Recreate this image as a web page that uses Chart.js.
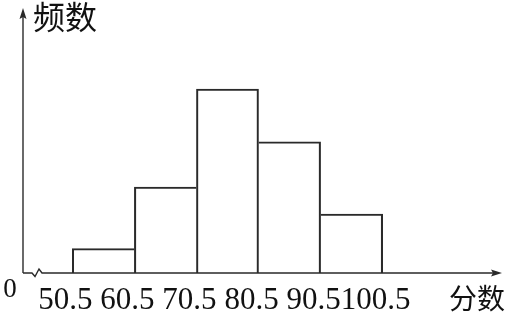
<!DOCTYPE html>
<html>
<head>
<meta charset="utf-8">
<script src="https://cdn.jsdelivr.net/npm/chart.js@4.4.1/dist/chart.umd.min.js"></script>
<style>
html,body{margin:0;padding:0;background:#fff;}
#wrap{width:510px;height:314px;position:relative;}
</style>
</head>
<body>
<div id="wrap"><canvas id="c" width="510" height="314"></canvas></div>
<script>
// Data
const binEdges = [50.5, 60.5, 70.5, 80.5, 90.5, 100.5];
const tickLabels = ['50.5', '60.5', '70.5', '80.5', '90.5', '100.5'];
const frequencies = [2, 7, 15, 10.7, 4.8];
const yAxisTitle = '频数';
const xAxisTitle = '分数';
const originLabel = '0';

const points = frequencies.map((v, i) => ({ x: (binEdges[i] + binEdges[i + 1]) / 2, y: v }));
const lineColor = '#2a2a2a';
const bw = 1.4;

const axesPlugin = {
  id: 'axesPlugin',
  afterDatasetsDraw(chart) {
    const ctx = chart.ctx;
    const xs = chart.scales.x, ys = chart.scales.y;
    const area = chart.chartArea;
    const x0 = area.left, y0 = ys.getPixelForValue(0);
    ctx.save();
    ctx.strokeStyle = lineColor;
    ctx.fillStyle = lineColor;
    ctx.lineWidth = 1.4;
    // y axis
    ctx.beginPath();
    ctx.moveTo(x0, y0);
    ctx.lineTo(x0, area.top + 4);
    ctx.stroke();
    ctx.beginPath();
    ctx.moveTo(x0, area.top);
    ctx.lineTo(x0 - 3.5, area.top + 11);
    ctx.lineTo(x0, area.top + 9);
    ctx.lineTo(x0 + 3.5, area.top + 11);
    ctx.closePath();
    ctx.fill();
    // x axis with break
    const bx = x0 + 9;
    ctx.beginPath();
    ctx.moveTo(x0, y0);
    ctx.lineTo(bx, y0);
    ctx.lineTo(bx + 3, y0 + 3.5);
    ctx.lineTo(bx + 7, y0 - 4);
    ctx.lineTo(bx + 10, y0);
    ctx.lineTo(area.right - 4, y0);
    ctx.stroke();
    ctx.beginPath();
    ctx.moveTo(area.right, y0);
    ctx.lineTo(area.right - 11, y0 - 3.5);
    ctx.lineTo(area.right - 9, y0);
    ctx.lineTo(area.right - 11, y0 + 3.5);
    ctx.closePath();
    ctx.fill();
    // texts
    ctx.fillStyle = '#111';
    ctx.font = '31px "Liberation Serif", "DejaVu Serif", serif';
    ctx.textAlign = 'center';
    ctx.textBaseline = 'alphabetic';
    binEdges.forEach((v, i) => {
      ctx.fillText(tickLabels[i], xs.getPixelForValue(v) - 7, 309);
    });
    ctx.font = '27px "Liberation Serif", serif';
    ctx.fillText(originLabel, x0 - 13, 297);
    ctx.textAlign = 'left';
    ctx.textBaseline = 'middle';
    ctx.font = '32px "Noto Sans CJK SC", sans-serif';
    ctx.fillText(yAxisTitle, x0 + 10, 17);
    ctx.font = '28px "Noto Sans CJK SC", sans-serif';
    ctx.fillText(xAxisTitle, 449, 298);
    ctx.restore();
  }
};

new Chart(document.getElementById('c'), {
  type: 'bar',
  data: {
    datasets: [{
      data: points,
      backgroundColor: 'rgba(255,255,255,0)',
      borderColor: lineColor,
      borderWidth: (c) => {
        const i = c.dataIndex, n = frequencies.length;
        const left = (i === 0 || frequencies[i - 1] < frequencies[i]) ? bw : 0;
        const right = (i === n - 1 || frequencies[i + 1] <= frequencies[i]) ? bw : 0;
        return { top: bw, right: right, bottom: 0, left: left };
      },
      borderSkipped: false,
      barPercentage: 1,
      categoryPercentage: 1
    }]
  },
  options: {
    responsive: false,
    animation: false,
    events: [],
    layout: { padding: { left: 23, right: 8, top: 8, bottom: 41 } },
    plugins: { legend: { display: false }, tooltip: { enabled: false } },
    scales: {
      x: { type: 'linear', offset: false, min: 42.56, max: 119.72, display: false },
      y: { min: 0, max: 21.6, display: false }
    }
  },
  plugins: [axesPlugin]
});
</script>
</body>
</html>
